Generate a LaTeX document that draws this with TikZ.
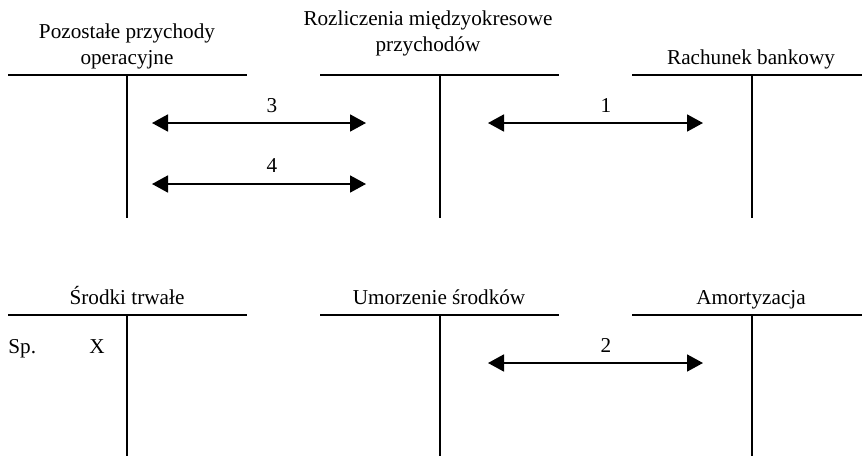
\documentclass[tikz,border=0pt]{standalone}
\usepackage{fontspec}
\setmainfont{Liberation Serif}
\usetikzlibrary{arrows.meta}
\begin{document}
\begin{tikzpicture}[x=0.5pt,y=-0.5pt,
  acct/.style={line width=0.9pt},
  flow/.style={line width=0.9pt,{Triangle[length=8pt,width=8.5pt]}-{Triangle[length=8pt,width=8.5pt]}},
  lbl/.style={font=\fontsize{10.6}{13}\selectfont, inner sep=0pt, anchor=base, align=center}]
\useasboundingbox (0,0) rectangle (862,456);
% top row T-accounts
\draw[acct] (8,75) -- (247,75) (127,75) -- (127,218);
\draw[acct] (320,75) -- (559,75) (440,75) -- (440,218);
\draw[acct] (632,75) -- (862,75) (752,75) -- (752,218);
% bottom row T-accounts
\draw[acct] (8,315) -- (247,315) (127,315) -- (127,456);
\draw[acct] (320,315) -- (559,315) (440,315) -- (440,456);
\draw[acct] (632,315) -- (862,315) (752,315) -- (752,456);
% titles
\node[lbl] (t1) at (127,64) {Pozostałe przychody\\operacyjne};
\node[lbl] (t2) at (428,51) {Rozliczenia międzyokresowe\\przychodów};
\node[lbl] (t3) at (751,64) {Rachunek bankowy};
\node[lbl] (t4) at (127,304) {Środki trwałe};
\node[lbl] (t5) at (439,304) {Umorzenie środków};
\node[lbl] (t6) at (751,304) {Amortyzacja};
\node[lbl,anchor=base west] (sp) at (8,353) {Sp.};
\node[lbl] (x) at (97,353) {X};
% flow endpoints
\coordinate (a3l) at (152,123); \coordinate (a3r) at (366,123);
\coordinate (a4l) at (152,184); \coordinate (a4r) at (366,184);
\coordinate (a1l) at (488,123); \coordinate (a1r) at (703,123);
\coordinate (a2l) at (488,363); \coordinate (a2r) at (703,363);
\draw[flow] (a3l) -- (a3r);
\draw[flow] (a4l) -- (a4r);
\draw[flow] (a1l) -- (a1r);
\draw[flow] (a2l) -- (a2r);
\node[lbl] (n3) at (272,112) {3};
\node[lbl] (n4) at (272,172) {4};
\node[lbl] (n1) at (606,112) {1};
\node[lbl] (n2) at (606,352) {2};
\end{tikzpicture}
\end{document}
